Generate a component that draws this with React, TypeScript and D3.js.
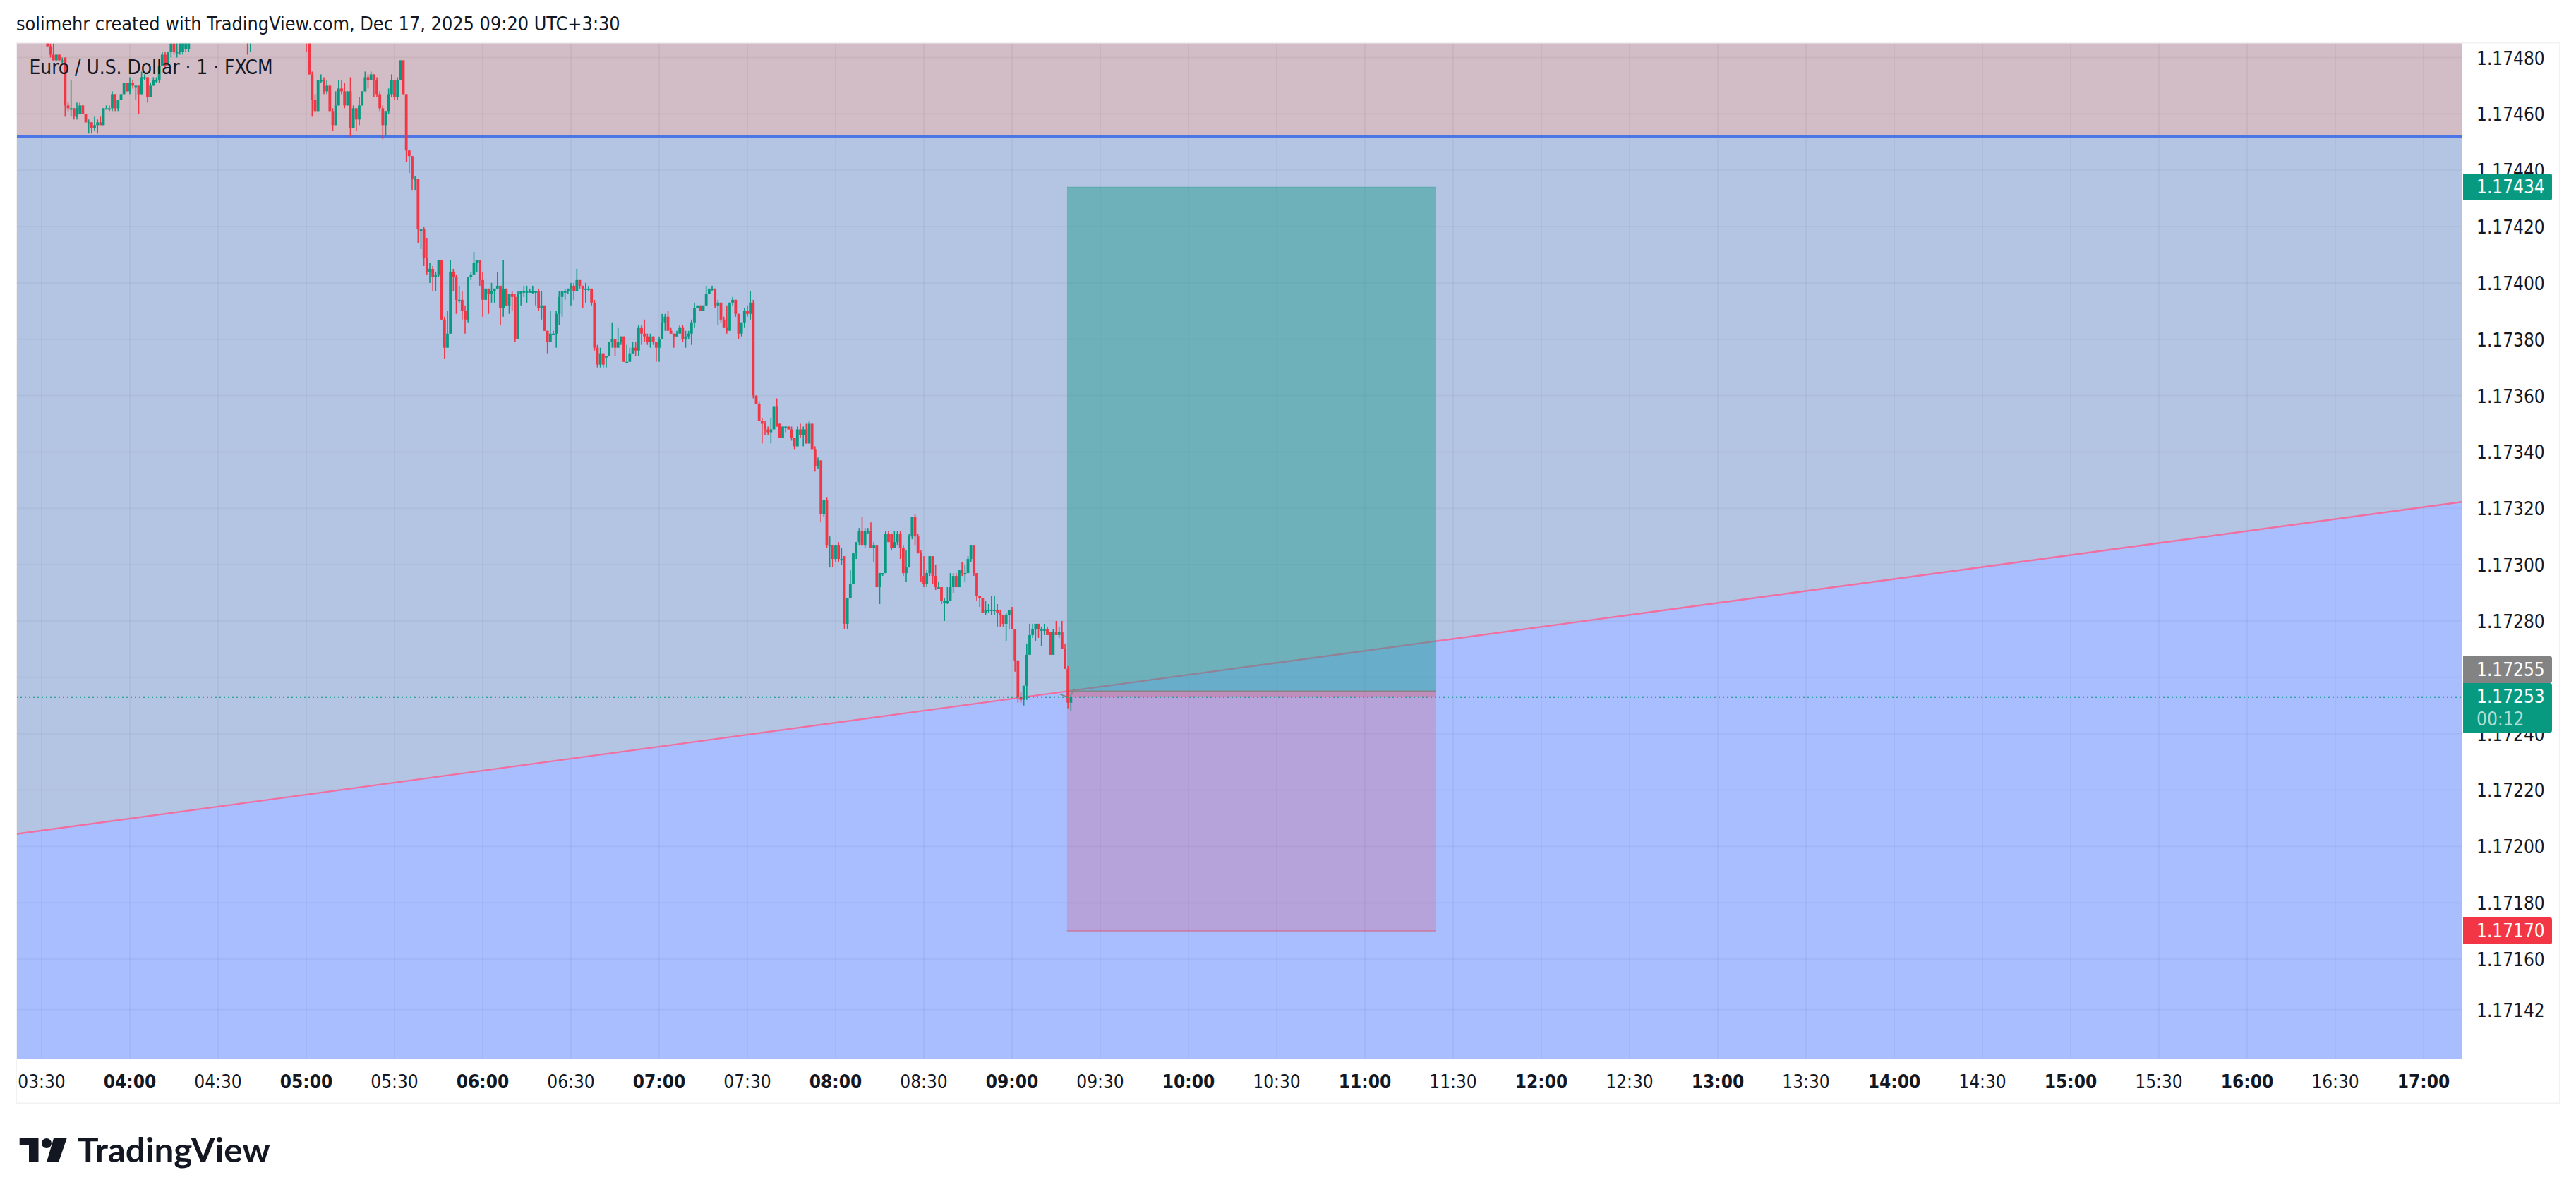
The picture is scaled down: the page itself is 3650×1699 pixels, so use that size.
import React from "react";
import * as d3 from "d3";

// Prices are kept as points above 1.17000 (480 = 1.17480). Rows are [open, high, low, close].
const BASE_PRICE = 1.17;
const POINT = 0.00001;

type Row = [number, number, number, number];

const barsStartA = 2; // minutes after 03:30
const barsA: Row[] = [
  [488,490,484,484],[484,485,480,481],[481,485,479,479],[479,481,479,481],[481,481,479,479],[479,480,478,479],
  [480,480,459,463],[463,464,461,462],[462,472,459,462],[462,462,458,459],[459,464,458,462],[460,464,460,463],
  [463,463,460,460],[460,460,457,457],[457,458,453,457],[457,457,453,455],[455,459,454,456],[456,458,453,457],
  [457,459,456,456],[456,462,456,462],[462,463,462,462],[462,463,461,462],[462,468,461,467],[467,467,461,462],
  [462,465,461,465],[465,467,465,467],[467,471,467,471],[471,471,468,468],[468,473,467,471],[471,472,469,470],
  [470,470,465,470],[470,470,460,467],[467,475,467,473],[473,474,472,473],[473,473,464,466],[466,471,466,470],
  [470,473,470,472],[472,473,471,472],[472,477,471,477],[477,482,477,481],[481,482,476,477],[478,482,477,482],
  [482,486,480,485],[485,486,481,482],[482,486,480,482],[482,487,481,485],[482,488,481,487],[483,490,482,488],
  [483,492,482,490],
];

const barsStartB = 70;
const barsB: Row[] = [[488,490,481,486],[486,490,482,488]];

const barsStart0500 = 90;
const bars0500: Row[] = [
  [492,494,482,489],[489,490,474,474],[474,475,459,465],[465,467,461,461],[461,472,461,472],[472,474,471,472],
  [472,473,467,468],[468,472,467,470],[470,470,461,461],[461,462,454,456],[456,468,456,463],[463,472,463,469],
  [469,472,467,468],[468,471,462,463],[463,468,463,468],[468,473,452,455],[455,463,455,462],[462,462,454,458],
  [458,466,456,463],[463,468,463,468],[468,475,468,473],[473,474,469,472],[472,475,472,474],[474,474,466,472],
  [472,473,466,467],[467,468,461,462],[462,463,451,456],[456,461,452,461],[461,469,460,467],[467,474,466,472],
  [472,472,465,466],[466,473,465,472],[472,479,472,479],[479,479,467,467],[467,467,443,447],[447,447,439,445],
  [445,445,433,437],[437,438,433,437],[437,437,414,419],[419,419,412,419],[419,420,406,409],[409,416,403,404],
  [404,407,400,405],[405,406,397,402],[402,404,397,403],[403,408,402,408],[408,408,387,387],[387,388,373,377],
  [377,390,377,382],[382,408,382,404],[404,405,397,402],[402,403,389,394],[394,399,393,394],[394,397,387,390],
  [390,392,382,387],[387,402,386,402],[402,404,401,403],[403,411,403,407],[407,408,404,408],[408,408,399,401],
];

const barsStart0600 = 150;
const bars0600: Row[] = [
  [401,404,388,394],[394,398,394,398],[398,398,389,396],[396,400,393,397],[397,398,393,398],[398,404,398,399],
  [399,399,385,391],[391,408,388,398],[398,398,392,392],[392,396,389,396],[396,397,390,395],[395,396,379,380],
  [380,397,380,396],[396,397,392,397],[397,399,395,397],[397,399,393,397],[397,398,397,397],[397,399,396,397],
  [397,397,392,397],[397,398,390,391],[391,397,387,392],[392,392,383,383],[383,383,375,379],[379,390,379,382],
  [382,383,382,382],[382,390,377,389],[389,397,385,395],[395,397,388,397],[397,398,394,397],[397,398,396,398],
  [398,400,392,399],[399,400,394,397],[397,405,397,401],[401,401,398,399],[399,399,391,398],[398,400,393,398],
  [398,399,397,398],[398,398,392,393],[393,394,376,377],[377,378,370,371],[371,377,370,375],[375,375,370,371],
  [374,374,370,374],[374,379,374,379],[379,386,377,380],[380,380,374,377],[377,384,377,379],[379,381,378,381],
  [381,381,372,372],[372,378,372,372],[372,377,372,375],[375,379,375,377],[377,379,374,376],[376,385,374,384],
  [384,385,378,382],[382,387,379,381],[381,382,378,379],
];

const barsStart0707 = 207;
const bars0707: Row[] = [
  [379,382,377,381],[381,381,378,379],[379,379,372,377],[377,381,372,380],[380,389,380,386],[386,389,383,388],
  [388,390,383,383],[383,384,382,382],[382,382,377,381],[381,383,381,382],[382,385,382,384],[384,385,379,380],
  [380,383,377,381],[381,383,380,382],[382,387,378,386],[386,393,384,391],[391,392,391,392],[392,392,390,390],
  [390,392,390,392],[392,399,392,396],[396,398,396,398],[398,399,397,398],[398,398,391,392],[392,394,385,393],
  [393,393,386,387],[387,388,384,384],[384,392,382,383],[383,393,383,393],[393,395,392,394],[394,394,388,389],
  [389,389,380,382],[382,386,381,386],[386,391,384,390],[390,392,388,389],[389,397,387,393],[393,394,359,360],
  [360,360,357,357],[357,358,351,351],[351,352,343,350],[350,351,346,348],[348,349,346,347],[347,352,343,348],
  [348,356,348,356],[356,359,349,349],[350,350,345,345],[345,349,345,349],[349,349,347,349],[349,349,348,348],
  [348,349,344,345],[345,345,341,342],[342,349,342,348],[348,350,345,346],[346,349,342,348],[348,350,343,343],
  [343,351,343,350],[350,350,341,341],
];

const barsStart0753 = 263;
const bars0753: Row[] = [
  [341,342,333,335],[335,338,334,337],[337,337,315,318],[318,323,317,323],[323,324,306,307],[307,310,299,307],
  [307,307,299,302],[302,307,301,307],[307,308,301,302],[302,306,300,302],[303,303,277,279],[279,288,277,288],
  [288,298,288,293],[293,304,293,304],[304,308,302,308],[308,313,307,312],[312,317,307,307],[307,313,306,312],
  [312,313,311,312],[312,315,306,306],[306,308,301,307],[307,307,292,292],[292,297,286,297],[297,297,296,297],
  [297,312,297,311],[311,312,308,308],[311,311,305,306],[306,312,306,308],[308,312,307,311],[311,312,302,306],
  [306,307,296,297],[297,305,294,299],[299,311,299,310],[310,317,309,317],[317,318,307,310],[310,311,304,304],
  [304,305,294,296],
];

const barsStart0830 = 300;
const bars0830: Row[] = [
  [296,303,292,293],[293,298,292,297],[297,303,296,303],[303,303,293,296],[296,300,291,292],[292,294,292,292],
  [292,292,286,287],[287,288,280,287],[287,292,286,287],[287,297,287,292],[292,297,290,296],[296,297,292,292],
  [292,298,292,298],[298,301,296,297],[297,300,294,297],[297,303,297,302],[302,307,301,307],[307,307,296,297],
  [297,297,287,289],[289,289,285,288],[288,288,283,283],[283,287,282,284],[284,286,283,284],[284,289,282,284],
  [284,289,282,284],[284,286,278,283],[283,284,278,282],[282,282,278,279],[279,283,273,282],[282,284,277,284],
  [284,285,277,277],[277,277,262,266],[266,266,251,253],[253,255,251,252],[252,257,250,257],[257,272,252,268],
  [268,279,268,275],[275,279,274,277],[277,279,273,279],[279,279,274,277],[277,278,271,277],[277,279,275,277],
  [277,278,275,275],[276,276,268,268],[268,277,268,276],[276,280,275,275],[275,278,274,276],[276,280,270,270],
  [270,272,263,263],[263,264,249,251],[251,254,248,253],
];

const candleSessions: { start: number; rows: Row[] }[] = [
  { start: barsStartA, rows: barsA },
  { start: barsStartB, rows: barsB },
  { start: barsStart0500, rows: bars0500 },
  { start: barsStart0600, rows: bars0600 },
  { start: barsStart0707, rows: bars0707 },
  { start: barsStart0753, rows: bars0753 },
  { start: barsStart0830, rows: bars0830 },
];

const priceTicks = [480,460,440,420,400,380,360,340,320,300,280,260,240,220,200,180,160,142];
const timeLabels = [
  "03:30","04:00","04:30","05:00","05:30","06:00","06:30","07:00","07:30","08:00","08:30","09:00","09:30",
  "10:00","10:30","11:00","11:30","12:00","12:30","13:00","13:30","14:00","14:30","15:00","15:30","16:00","16:30","17:00",
];

const resistanceLevel = 452;
const entryLevel = 255;
const targetLevel = 434;
const stopLevel = 170;
const lastLevel = 253;
const positionMinutes = [348.7, 474.2];
const trendMinutes = [-8.64, 823.2];
const trendLevels = [204.4, 322.3];
const arrowMinutes = [[346.3, 349.4], [350.3, 351.2]];
const arrowLevels = [[254, 252.8], [254.2, 256]];

const GREEN = "#089981";
const RED = "#f23645";
const INK = "#131722";
const FONT = "'DejaVu Sans', sans-serif";

const W = 3650, H = 1699;
const L = 23, T = 61, R = 3488, B = 1501;

const px = (p: number) => BASE_PRICE + p * POINT;
const x = d3.scaleLinear().domain([0, 810]).range([59, 3434]);
const y = d3.scaleLinear().domain([px(480), px(160)]).range([81.5, 1359]);
const yp = (p: number) => y(px(p));

const trendLine = d3.line<number>().x((_, i) => x(trendMinutes[i])).y((d) => yp(d));

const Label = (props: any) => (
  <text fontFamily={FONT} fontSize={26} style={{ fontStretch: "condensed" }} fill={INK} {...props} />
);

function PriceBox({ top, height, color, text, sub }: any) {
  const bx = 3490, bw = 126, r = 3;
  const path = d3.path();
  path.moveTo(bx, top);
  path.lineTo(bx + bw - r, top);
  path.arcTo(bx + bw, top, bx + bw, top + r, r);
  path.lineTo(bx + bw, top + height - r);
  path.arcTo(bx + bw, top + height, bx + bw - r, top + height, r);
  path.lineTo(bx, top + height);
  path.closePath();
  return (
    <g>
      <path d={path.toString()} fill={color} />
      <Label x={3509} y={top + 19} dominantBaseline="central" fill="#fff">{text}</Label>
      {sub ? <Label x={3509} y={top + 51} dominantBaseline="central" fill="#fff" fillOpacity={0.7}>{sub}</Label> : null}
    </g>
  );
}

export default function App() {
  const t0 = yp(trendLevels[0]), t1 = yp(trendLevels[1]);
  const xa = x(trendMinutes[0]), xb = x(trendMinutes[1]);
  const yRes = yp(resistanceLevel);
  const pl = x(positionMinutes[0]), pr = x(positionMinutes[1]);
  const candles = candleSessions.flatMap((s) =>
    s.rows.map((r, i) => ({ t: s.start + i, o: r[0], h: r[1], l: r[2], c: r[3] }))
  );
  return (
    <svg width={W} height={H} viewBox={`0 0 ${W} ${H}`} style={{ position: "absolute", left: 0, top: 0, background: "#fff", display: "block" }}>
      <defs>
        <clipPath id="plot"><rect x={L} y={T} width={R - L} height={B - T} /></clipPath>
      </defs>

      <Label x={23} y={43} fontSize={26.8}>solimehr created with TradingView.com, Dec 17, 2025 09:20 UTC+3:30</Label>

      <g clipPath="url(#plot)">
        <rect x={L} y={T} width={R - L} height={B - T} fill="#a8beff" />
        <polygon points={`${xa},${t0} ${xb},${t1} ${xb},${T} ${xa},${T}`} fill="#b4c5e3" />
        <rect x={L} y={T} width={R - L} height={yRes - T} fill="#d2bcc5" />

        {priceTicks.map((p) => (
          <line key={p} x1={L} x2={R} y1={yp(p)} y2={yp(p)} stroke="#000" strokeOpacity={0.035} strokeWidth={2} />
        ))}
        {timeLabels.map((_, i) => (
          <line key={i} x1={x(i * 30)} x2={x(i * 30)} y1={T} y2={B} stroke="#000" strokeOpacity={0.035} strokeWidth={2} />
        ))}

        <line x1={L} x2={R} y1={yRes} y2={yRes} stroke="#4a76e6" strokeWidth={4} />
        <path d={trendLine(trendLevels) ?? ""} stroke="#f06ea0" strokeWidth={2.4} fill="none" />

        <rect x={pl} y={yp(targetLevel)} width={pr - pl} height={yp(entryLevel) - yp(targetLevel)} fill="rgb(27,152,138)" fillOpacity={0.45} />
        <rect x={pl} y={yp(entryLevel)} width={pr - pl} height={yp(stopLevel) - yp(entryLevel)} fill={RED} fillOpacity={0.2} />
        <rect x={pl} y={yp(entryLevel)} width={pr - pl} height={yp(lastLevel) - yp(entryLevel)} fill={RED} fillOpacity={0.2} />
        <line x1={pl} x2={pr} y1={yp(targetLevel)} y2={yp(targetLevel)} stroke={GREEN} strokeOpacity={0.25} strokeWidth={1.5} />
        <line x1={pl} x2={pr} y1={yp(stopLevel)} y2={yp(stopLevel)} stroke={RED} strokeOpacity={0.35} strokeWidth={2} />
        <line x1={pl} x2={pr} y1={yp(entryLevel)} y2={yp(entryLevel)} stroke="#868686" strokeWidth={2.4} />

        {candles.map((d) => {
          const up = d.c >= d.o;
          const col = up ? GREEN : RED;
          const top = yp(Math.max(d.o, d.c));
          const bot = yp(Math.min(d.o, d.c));
          return (
            <g key={d.t}>
              <rect x={x(d.t) - 0.8} y={yp(d.h)} width={1.6} height={yp(d.l) - yp(d.h)} fill={col} />
              <rect x={x(d.t) - 1.9} y={top} width={3.8} height={Math.max(bot - top, 2)} fill={col} />
            </g>
          );
        })}

        {arrowMinutes.map((m, i) => (
          <line key={i} x1={x(m[0])} x2={x(m[1])} y1={yp(arrowLevels[i][0])} y2={yp(arrowLevels[i][1])} stroke="#868686" strokeWidth={1.6} />
        ))}

        <line x1={L} x2={R} y1={yp(lastLevel)} y2={yp(lastLevel)} stroke={GREEN} strokeWidth={2} strokeDasharray="2 4" />
      </g>

      <Label x={41.5} y={105} fontSize={27.8}>Euro / U.S. Dollar · 1 · FXCM</Label>

      <rect x={23} y={60.5} width={3604} height={1503} fill="none" stroke="#f2f2f2" strokeWidth={2} />

      {priceTicks.map((p) => (
        <Label key={p} x={3509} y={yp(p) + 1} dominantBaseline="central">{px(p).toFixed(5)}</Label>
      ))}
      {timeLabels.map((s, i) => (
        <Label key={s} x={x(i * 30)} y={1533} dominantBaseline="central" textAnchor="middle" fontWeight={s.endsWith(":00") ? 700 : 400}>{s}</Label>
      ))}

      <PriceBox top={246} height={38} color={GREEN} text={px(targetLevel).toFixed(5)} />
      <PriceBox top={930} height={38} color="#838383" text={px(entryLevel).toFixed(5)} />
      <PriceBox top={968} height={70} color={GREEN} text={px(lastLevel).toFixed(5)} sub="00:12" />
      <PriceBox top={1300} height={38} color={RED} text={px(stopLevel).toFixed(5)} />

      <g fill={INK}>
        <polygon points="27.7,1613 54.5,1613 54.5,1647 41,1647 41,1622.5 27.7,1622.5" />
        <circle cx={66} cy={1620} r={7} />
        <polygon points="76,1613 94.6,1613 83,1647 66,1647" />
        <text x={110} y={1647} fontFamily="Lato, sans-serif" fontWeight={700} fontSize={47} textLength={273} lengthAdjust="spacingAndGlyphs">TradingView</text>
      </g>
    </svg>
  );
}
